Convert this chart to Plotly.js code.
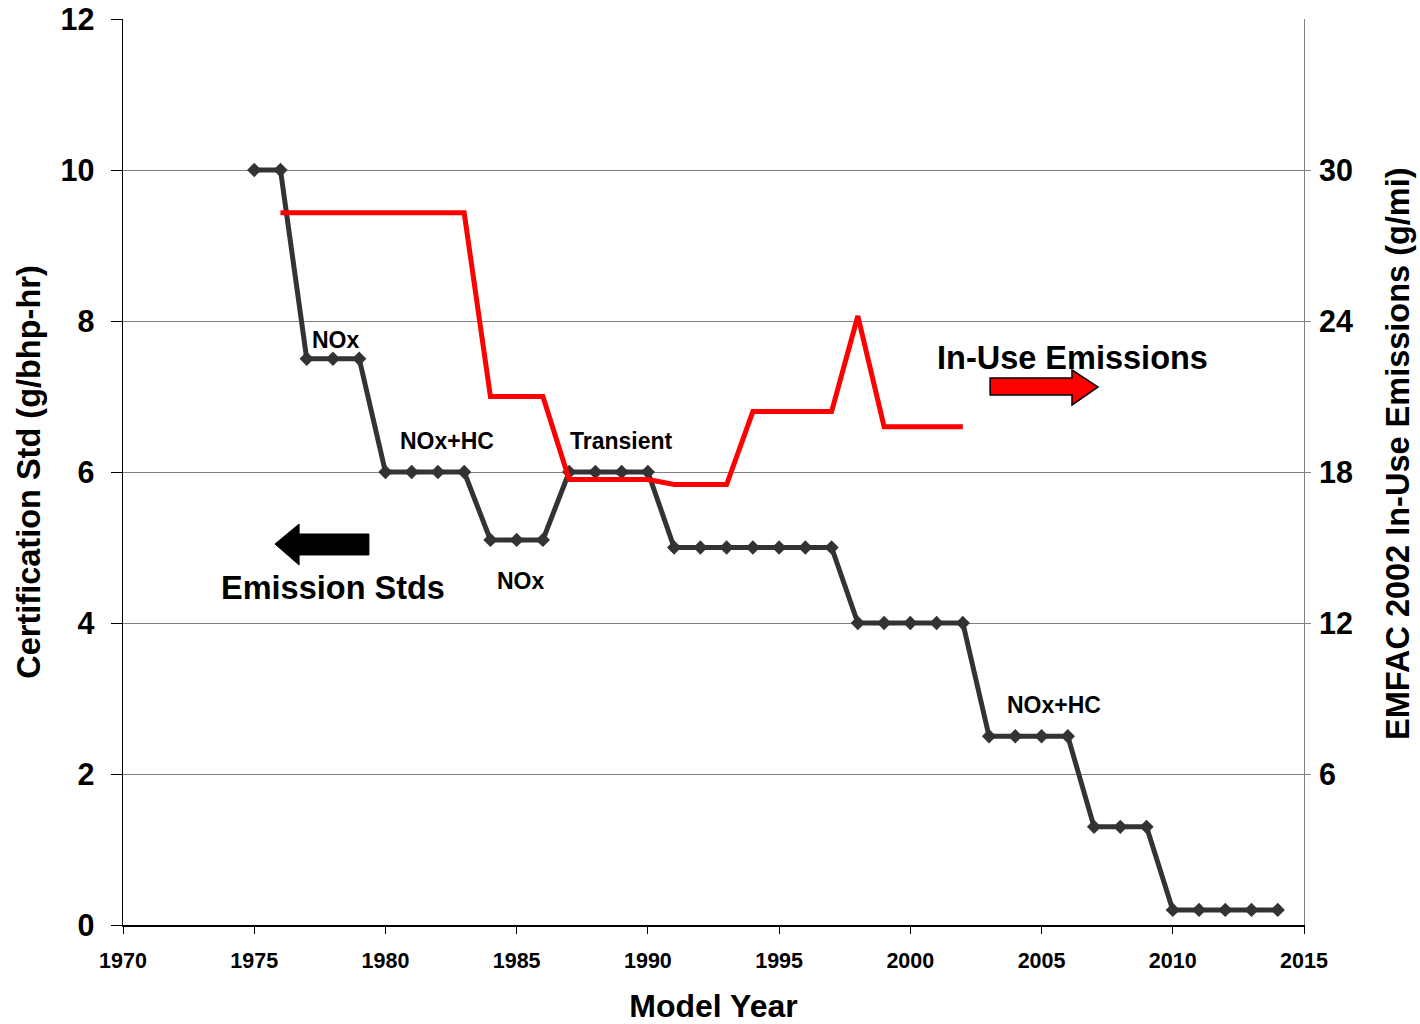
<!DOCTYPE html>
<html>
<head>
<meta charset="utf-8">
<script src="https://cdn.plot.ly/plotly-3.0.1.min.js"></script>
<style>
html,body{margin:0;padding:0;background:#fff;}
#chart{width:1420px;height:1024px;}
</style>
</head>
<body>
<div id="chart"></div>
<script>
// Certification standard (g/bhp-hr), left axis
const stdYears = [1975,1976,1977,1978,1979,1980,1981,1982,1983,1984,1985,1986,1987,1988,1989,1990,1991,1992,1993,1994,1995,1996,1997,1998,1999,2000,2001,2002,2003,2004,2005,2006,2007,2008,2009,2010,2011,2012,2013,2014];
const certStd = [10,10,7.5,7.5,7.5,6,6,6,6,5.1,5.1,5.1,6,6,6,6,5,5,5,5,5,5,5,4,4,4,4,4,2.5,2.5,2.5,2.5,1.3,1.3,1.3,0.2,0.2,0.2,0.2,0.2];

// EMFAC 2002 in-use emissions (g/mi), right axis
const inUseYears = [1976,1977,1978,1979,1980,1981,1982,1983,1984,1985,1986,1987,1988,1989,1990,1991,1992,1993,1994,1995,1996,1997,1998,1999,2000,2001,2002];
const inUse = [28.3,28.3,28.3,28.3,28.3,28.3,28.3,28.3,21.0,21.0,21.0,17.7,17.7,17.7,17.7,17.5,17.5,17.5,20.4,20.4,20.4,20.4,24.2,19.8,19.8,19.8,19.8];

const leftTicks = [0,2,4,6,8,10,12];
const rightTicks = [6,12,18,24,30];
const xTicks = [1970,1975,1980,1985,1990,1995,2000,2005,2010,2015];

const FONT = '"Liberation Sans", Arial, Helvetica, sans-serif';
const bold = (size) => ({family: FONT, size: size, color: '#000', weight: 700});

const traces = [
  {
    x: inUseYears, y: inUse, yaxis: 'y2', type: 'scatter', mode: 'lines',
    line: {color: '#ff0000', width: 5}, hoverinfo: 'skip', showlegend: false
  },
  {
    x: stdYears, y: certStd, type: 'scatter', mode: 'lines+markers',
    line: {color: '#333333', width: 5},
    marker: {symbol: 'diamond', size: 11, color: '#333333'},
    hoverinfo: 'skip', showlegend: false
  }
];

const annotations = [
  {x: 1978.12, y: 7.75, text: 'NOx', size: 23},
  {x: 1982.35, y: 6.41, text: 'NOx+HC', size: 23},
  {x: 1989.01, y: 6.41, text: 'Transient', size: 23},
  {x: 1985.17, y: 4.556, text: 'NOx', size: 23},
  {x: 2005.48, y: 2.914, text: 'NOx+HC', size: 23},
  {x: 2006.16, y: 7.51, text: 'In-Use Emissions', size: 32.5},
  {x: 1978.0, y: 4.46, text: 'Emission Stds', size: 32.5}
].map(a => ({x: a.x, y: a.y, xref: 'x', yref: 'y', text: a.text, showarrow: false,
  font: bold(a.size), xanchor: 'center', yanchor: 'middle'}));

// right-axis title placed as a rotated annotation (sits slightly above centre in the reference)
annotations.push({
  xref: 'paper', yref: 'paper', x: 1.0796, y: 0.52,
  text: 'EMFAC 2002 In-Use Emissions (g/mi)', textangle: -90,
  showarrow: false, font: bold(32.5), xanchor: 'center', yanchor: 'middle'
});

const shapes = [
  // black left arrow
  {type: 'path', xref: 'x', yref: 'y',
   path: 'M1975.79,5.046 L1976.71,5.311 L1976.71,5.179 L1979.37,5.179 L1979.37,4.901 L1976.71,4.901 L1976.71,4.768 Z',
   fillcolor: '#000', line: {color: '#000', width: 1}},
  // red right arrow
  {type: 'path', xref: 'x', yref: 'y',
   path: 'M2003.04,7.245 L2006.16,7.245 L2006.16,7.351 L2007.15,7.126 L2006.16,6.887 L2006.16,7.020 L2003.04,7.020 Z',
   fillcolor: '#ff0000', line: {color: '#000', width: 1.5}}
];

const layout = {
  width: 1420, height: 1024,
  paper_bgcolor: '#fff', plot_bgcolor: '#fff',
  margin: {l: 123, r: 116, t: 19, b: 99},
  showlegend: false,
  font: bold(20),
  xaxis: {
    range: [1970, 2015], tickvals: xTicks, ticktext: xTicks.map(String),
    showgrid: false, zeroline: false,
    showline: true, linecolor: '#000', linewidth: 1.5,
    ticks: 'outside', ticklen: 7, tickcolor: '#000', tickwidth: 1,
    ticklabelstandoff: 9,
    tickfont: bold(21.5),
    title: {text: 'Model Year', font: bold(32), standoff: 22}
  },
  yaxis: {
    range: [0, 12], tickvals: leftTicks,
    showgrid: true, gridcolor: '#808080', gridwidth: 1,
    zeroline: false,
    showline: true, linecolor: '#000', linewidth: 1.5,
    ticks: 'outside', ticklen: 11, tickcolor: '#000', tickwidth: 1,
    ticklabelstandoff: 10,
    tickfont: bold(30.5),
    title: {text: 'Certification Std (g/bhp-hr)', font: bold(32.5), standoff: 10}
  },
  yaxis2: {
    range: [0, 36], tickvals: rightTicks, overlaying: 'y', side: 'right',
    showgrid: false, zeroline: false,
    showline: true, linecolor: '#808080', linewidth: 1,
    ticks: 'outside', ticklen: 6, tickcolor: '#808080', tickwidth: 1,
    ticklabelstandoff: 2,
    tickfont: bold(30.5)
  },
  annotations: annotations,
  shapes: shapes
};

Plotly.newPlot('chart', traces, layout, {displayModeBar: false, staticPlot: true});
</script>
</body>
</html>
